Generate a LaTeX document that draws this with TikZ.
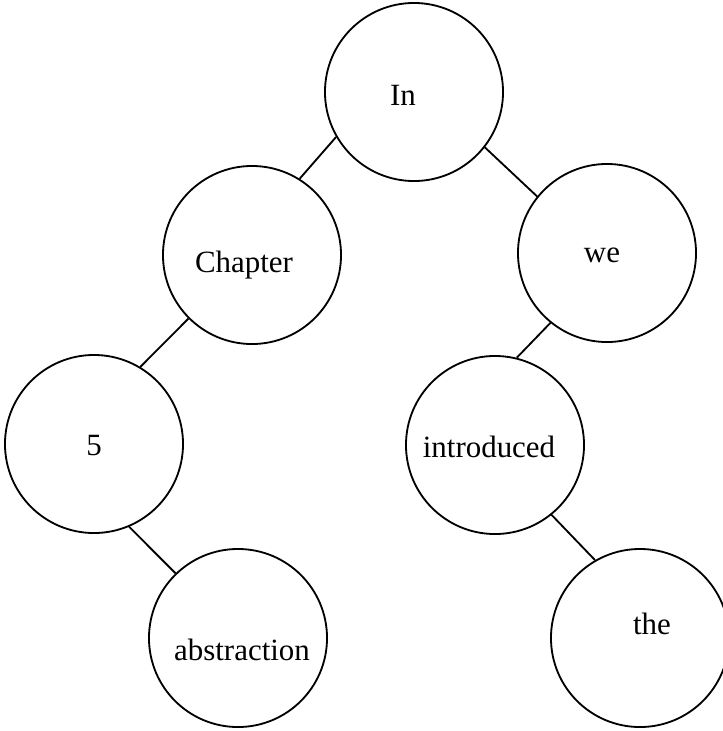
\documentclass[tikz,border=0pt]{standalone}
\usepackage{fontspec}
\setmainfont{Liberation Serif}
\begin{document}
\begin{tikzpicture}[x=0.025cm, y=-0.025cm,
  word/.style={circle, draw=black, line width=1.3pt, minimum size=4.45cm,
               inner sep=0pt, fill=white},
  wordtext/.style={font=\fontsize{22}{26}\selectfont, inner sep=0pt},
  branch/.style={draw=black, line width=1.3pt}]
  \useasboundingbox (0,0) rectangle (723,731);

  % tree nodes
  \node[word, label={[wordtext, xshift=-0.275cm, yshift=-0.075cm]center:In}] (in) at (414,92) {};
  \node[word, label={[wordtext, xshift=-0.2cm, yshift=-0.25cm]center:Chapter}] (chapter) at (252,255) {};
  \node[word, label={[wordtext, xshift=-0.125cm, yshift=-0.05cm]center:we}] (we) at (607,253) {};
  \node[word, label={[wordtext, yshift=-0.05cm]center:5}] (five) at (94,444) {};
  \node[word, label={[wordtext, xshift=-0.15cm, yshift=-0.05cm]center:introduced}] (introduced) at (495,445) {};
  \node[word, label={[wordtext, xshift=0.1cm, yshift=-0.3cm]center:abstraction}] (abstraction) at (238,638) {};
  \node[word, label={[wordtext, xshift=0.3cm, yshift=0.35cm]center:the}] (the) at (640,638) {};

  % branches
  \draw[branch] (in.210) -- (chapter.58);
  \draw[branch] (in.322) -- (we.141);
  \draw[branch] (chapter.225) -- (five.59);
  \draw[branch] (we.231) -- (introduced.76);
  \draw[branch] (five.293) -- (abstraction.134);
  \draw[branch] (introduced.309) -- (the.120);
\end{tikzpicture}
\end{document}
